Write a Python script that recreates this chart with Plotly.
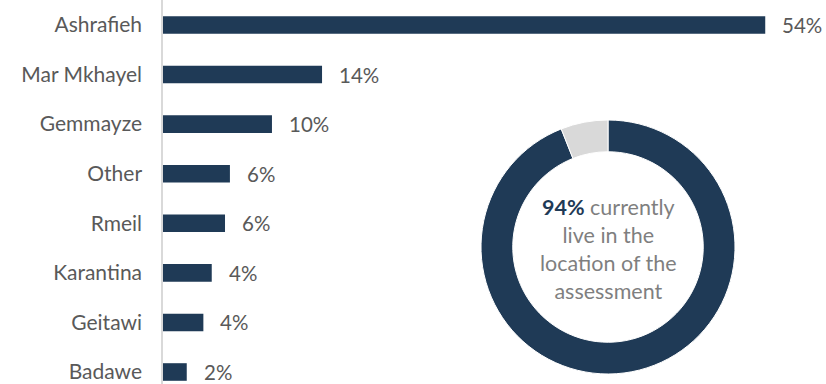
import plotly.graph_objects as go

categories = ["Ashrafieh", "Mar Mkhayel", "Gemmayze", "Other", "Rmeil", "Karantina", "Geitawi", "Badawe"]
values = [54.0, 14.26, 9.77, 6.0, 5.56, 4.37, 3.62, 2.13]
labels = ["54%", "14%", "10%", "6%", "6%", "4%", "4%", "2%"]

donut_labels = ["Currently live in the location", "Other"]
donut_values = [94, 6]

DARK = "#1f3a56"
GRAY_TXT = "#595959"
FONT = "Lato, sans-serif"

fig = go.Figure()
fig.add_trace(go.Bar(
    x=values, y=categories, orientation="h",
    marker=dict(color=DARK, line=dict(width=0)),
    width=0.355, hoverinfo="skip", showlegend=False,
))
for c, v, t in zip(categories, values, labels):
    fig.add_annotation(x=v, y=c, text=t, xanchor="left", yanchor="middle",
                       xshift=15, showarrow=False,
                       font=dict(family=FONT, size=20.5, color=GRAY_TXT))

fig.add_trace(go.Pie(
    labels=donut_labels, values=donut_values, hole=0.75, sort=False,
    direction="clockwise", rotation=0,
    marker=dict(colors=[DARK, "#d9d9d9"], line=dict(color="white", width=1)),
    textinfo="none", hoverinfo="skip", showlegend=False,
    domain=dict(x=[(481 - 163) / 658, (735 - 163) / 658],
                y=[(384 - 374) / 384, (384 - 120) / 384]),
))

fig.add_annotation(
    xref="paper", yref="paper", x=(608 - 163) / 658, y=(384 - 249) / 384,
    xanchor="center", yanchor="middle", showarrow=False, align="center",
    text=("<b><span style='color:%s'>94%%</span></b> currently<br>live in the<br>"
          "location of the<br>assessment") % DARK,
    font=dict(family=FONT, size=21.5, color="#7f7f7f"),
)

fig.update_layout(
    width=826, height=384,
    margin=dict(l=163, r=5, t=0, b=0),
    paper_bgcolor="white", plot_bgcolor="white",
    xaxis=dict(range=[0, 59], visible=False, showgrid=False, zeroline=False),
    yaxis=dict(type="category", categoryorder="array", categoryarray=categories,
               range=[7.242, -0.504], showgrid=False, zeroline=False,
               showline=True, linecolor="#d9d9d9", linewidth=1.5,
               ticks="", ticklabelstandoff=15,
               tickfont=dict(family=FONT, size=21, color=GRAY_TXT)),
    font=dict(family=FONT),
)

fig.write_html("out.html")
